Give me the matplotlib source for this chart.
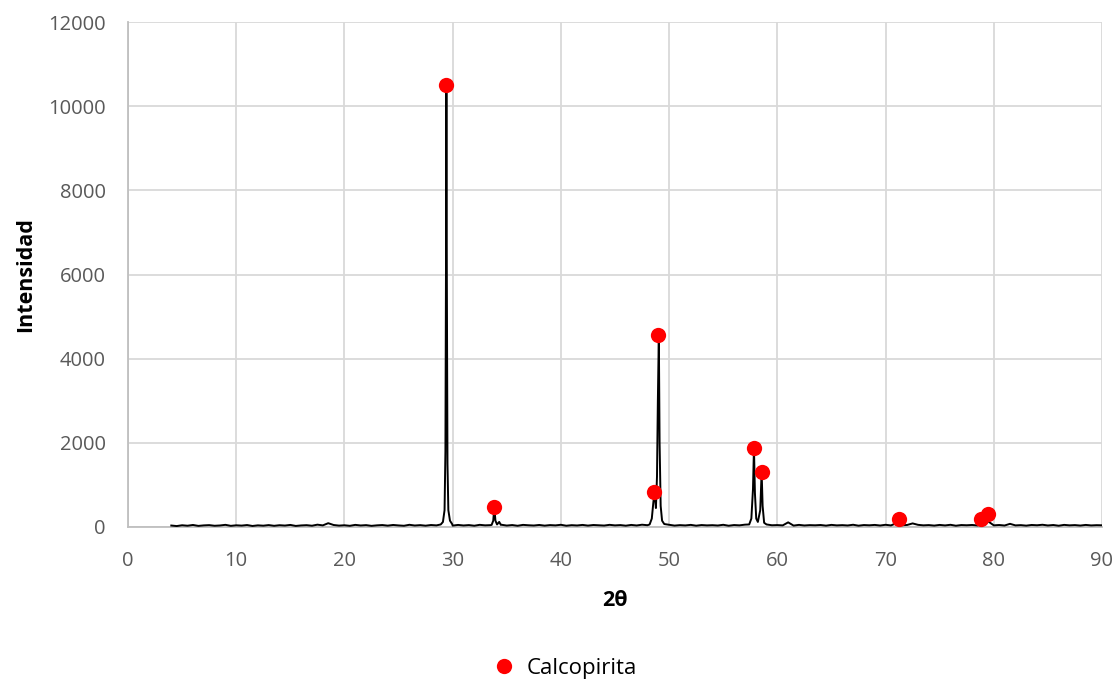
from matplotlib import pyplot as plt
import numpy as np

# baseline of the scan, 4 to 90 deg in 0.5 deg steps (counts)
base_y = [35, 22, 41, 30, 48, 26, 38, 44, 29, 36, 51, 27, 40, 33, 46, 24, 39, 31, 45, 28,
          42, 34, 49, 25, 37, 43, 30, 55, 38, 90, 47, 33, 41, 28, 50, 36, 44, 27, 39, 46,
          32, 48, 37, 29, 52, 35, 44, 31, 47, 38, 56, 42, 33, 49, 36, 45, 30, 51, 39, 44,
          37, 53, 34, 46, 29, 50, 41, 35, 48, 32, 45, 38, 52, 30, 43, 36, 49, 33, 47, 40,
          34, 51, 38, 45, 31, 49, 36, 54, 42, 35, 47, 39, 53, 33, 44, 37, 50, 31, 46, 38,
          43, 35, 52, 30, 46, 39, 55, 37, 48, 34, 51, 41, 45, 38, 110, 33, 50, 36, 44, 40,
          47, 32, 50, 38, 44, 36, 53, 31, 46, 40, 49, 35, 52, 37, 90, 41, 48, 85, 51, 39,
          45, 33, 49, 37, 52, 30, 46, 41, 48, 36, 90, 130, 39, 47, 35, 75, 38, 44, 32, 48,
          41, 53, 36, 47, 30, 50, 39, 45, 34, 49, 37, 43, 40]
base_x = np.arange(4, 90.01, 0.5)

# peak profiles
peak1_x = [28.9, 29.1, 29.25, 29.33, 29.38, 29.42, 29.46, 29.52, 29.6, 29.75, 29.95]
peak1_y = [60, 120, 400, 1800, 6000, 10500, 6000, 1500, 400, 150, 70]
peak2_x = [33.6, 33.75, 33.85, 33.95, 34.1, 34.3, 34.45]
peak2_y = [50, 150, 480, 150, 60, 120, 50]
peak3_x = [48.2, 48.4, 48.55, 48.66, 48.78, 48.88, 48.96, 49.05, 49.12, 49.22, 49.35, 49.55]
peak3_y = [60, 200, 600, 830, 450, 1200, 3000, 4560, 2000, 500, 150, 70]
peak4_x = [57.4, 57.6, 57.75, 57.84, 57.93, 58.05, 58.2, 58.42, 58.55, 58.64, 58.78, 59.0]
peak4_y = [60, 200, 900, 1877, 800, 200, 120, 400, 1306, 500, 100, 60]

# calcopirita markers
cal_x = [29.4, 33.85, 48.6, 49.0, 57.85, 58.55, 71.2, 78.85, 79.45]
cal_y = [10500, 480, 830, 4560, 1877, 1306, 190, 190, 310]

xs = list(base_x)
ys = list(base_y)
for px, py in [(peak1_x, peak1_y), (peak2_x, peak2_y), (peak3_x, peak3_y), (peak4_x, peak4_y)]:
    keep = [(a, b) for a, b in zip(xs, ys) if a < px[0] or a > px[-1]]
    xs = [k[0] for k in keep] + px
    ys = [k[1] for k in keep] + py
order = np.argsort(xs)
xs = np.array(xs)[order]
ys = np.array(ys)[order]

plt.rcParams['font.family'] = ['Open Sans', 'DejaVu Sans']

fig = plt.figure(figsize=(11.19, 6.82), dpi=100)
ax = fig.add_axes([0.1144, 0.2273, 0.8704, 0.7404])

ax.plot(xs, ys, color='black', lw=1.4, zorder=3)
ax.plot(cal_x, cal_y, 'o', color='#ff0000', ms=11, mec='none', zorder=4, label='Calcopirita')

ax.set_xlim(0, 90)
ax.set_ylim(0, 12000)
ax.set_xticks(range(0, 91, 10))
ax.set_yticks(range(0, 12001, 2000))
ax.grid(True, color='#d9d9d9', lw=1.3)
ax.set_axisbelow(True)
for s in ['top', 'right']:
    ax.spines[s].set_visible(False)
for s in ['left', 'bottom']:
    ax.spines[s].set_color('#bfbfbf')
    ax.spines[s].set_linewidth(1.3)
ax.tick_params(length=0, labelsize=14.5, colors='#595959')
ax.tick_params(axis='x', pad=17)
ax.tick_params(axis='y', pad=16)

ax.set_xlabel('2θ', fontsize=15.5, fontweight='bold', labelpad=14)
ax.set_ylabel('Intensidad', fontsize=15.5, fontweight='bold', labelpad=9)

fig.legend(loc='center', bbox_to_anchor=(0.5, 0.0205), frameon=False,
           fontsize=16, handletextpad=0.05, markerscale=1.0)

fig.savefig('out.png', dpi=100)
